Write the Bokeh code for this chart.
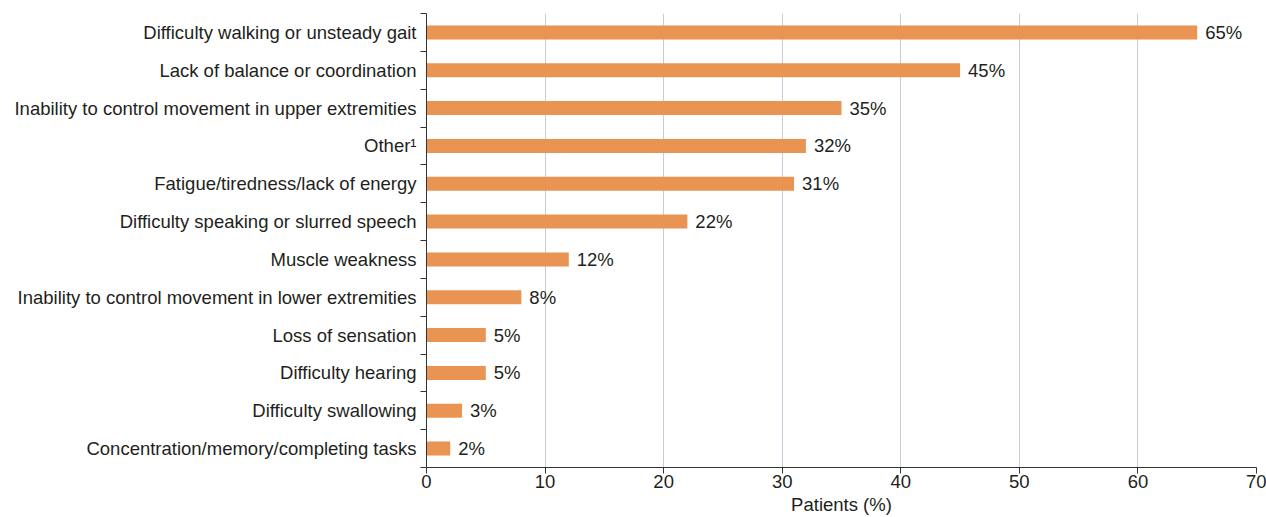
from bokeh.plotting import figure
from bokeh.models import ColumnDataSource, FixedTicker, Range1d, LabelSet
from bokeh.core.properties import value
from bokeh.embed import file_html
from bokeh.resources import INLINE

categories = [
    "Difficulty walking or unsteady gait",
    "Lack of balance or coordination",
    "Inability to control movement in upper extremities",
    "Other\u00b9",
    "Fatigue/tiredness/lack of energy",
    "Difficulty speaking or slurred speech",
    "Muscle weakness",
    "Inability to control movement in lower extremities",
    "Loss of sensation",
    "Difficulty hearing",
    "Difficulty swallowing",
    "Concentration/memory/completing tasks",
]
values = [65, 45, 35, 32, 31, 22, 12, 8, 5, 5, 3, 2]
x_ticks = [0, 10, 20, 30, 40, 50, 60, 70]

n = len(categories)
ypos = [n - 0.5 - i for i in range(n)]
src = ColumnDataSource(dict(y=ypos, v=values,
                            lab=[f"{v}%" for v in values]))

FONT = "Liberation Sans"
FS = "18.5px"
TXT = "#231f20"

p = figure(width=1266, height=517, output_backend="svg", toolbar_location=None,
           x_range=Range1d(0, 70), y_range=Range1d(0, n),
           min_border_left=426, min_border_right=10, min_border_top=13,
           min_border_bottom=50)
p.outline_line_color = None
p.hbar(y="y", left=0, right="v", height=0.37, source=src,
       fill_color="#EA9454", line_color=None)
p.add_layout(LabelSet(x="v", y="y", text="lab", source=src, x_offset=8,
                      text_baseline="middle", text_font=value(FONT),
                      text_font_size=value(FS), text_color=TXT))

# x axis
p.xaxis.ticker = FixedTicker(ticks=x_ticks)
p.xaxis.axis_label = "Patients (%)"
p.xaxis.axis_label_text_font = FONT
p.xaxis.axis_label_text_font_size = FS
p.xaxis.axis_label_text_font_style = "normal"
p.xaxis.axis_label_text_color = TXT
p.xaxis.axis_label_standoff = 3
p.xaxis.major_label_text_font = FONT
p.xaxis.major_label_text_font_size = FS
p.xaxis.major_label_text_color = TXT
p.xaxis.major_label_standoff = 1
p.xaxis.major_tick_out = 6
p.xaxis.major_tick_in = 0
p.xaxis.minor_tick_line_color = None
p.xaxis.axis_line_color = "#333333"
p.xaxis.major_tick_line_color = "#333333"

# y axis: labels at centers, ticks at boundaries (minor ticks)
p.yaxis.ticker = FixedTicker(ticks=ypos, minor_ticks=list(range(n + 1)))
p.yaxis.major_label_overrides = {y: c for y, c in zip(ypos, categories)}
p.yaxis.major_tick_line_color = None
p.yaxis.major_tick_out = 0
p.yaxis.major_tick_in = 0
p.yaxis.minor_tick_out = 6
p.yaxis.minor_tick_in = 0
p.yaxis.minor_tick_line_color = "#333333"
p.yaxis.axis_line_color = "#333333"
p.yaxis.major_label_text_font = FONT
p.yaxis.major_label_text_font_size = FS
p.yaxis.major_label_text_color = TXT
p.yaxis.major_label_standoff = 4

p.xgrid.ticker = FixedTicker(ticks=x_ticks[1:])
p.xgrid.grid_line_color = "#c8cbd8"
p.ygrid.grid_line_color = None

open("out.html", "w").write(file_html(p, INLINE))
